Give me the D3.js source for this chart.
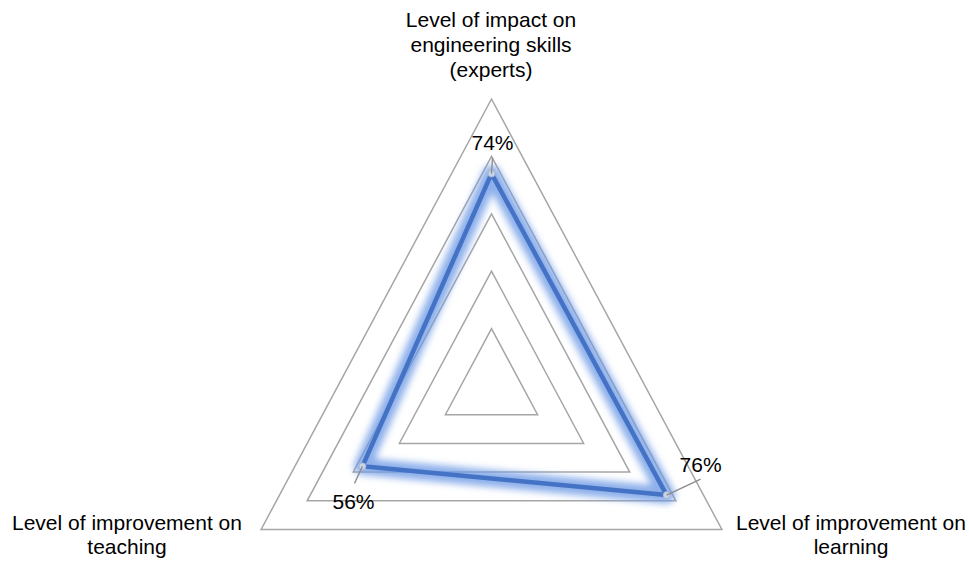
<!DOCTYPE html>
<html>
<head>
<meta charset="utf-8">
<script src="https://cdn.jsdelivr.net/npm/d3@7"></script>
<style>
  html, body { margin: 0; padding: 0; background: #fff; }
  svg { display: block; font-family: "Liberation Sans", Arial, sans-serif; }
</style>
</head>
<body>
<svg id="chart" width="969" height="562"></svg>
<script>
// Radar chart: three axes, one series, values in percent of full scale
const categories = [
  ["Level of impact on", "engineering skills", "(experts)"],
  ["Level of improvement on", "learning"],
  ["Level of improvement on", "teaching"]
];
const values = [0.74, 0.76, 0.56];
const valueLabels = ["74%", "76%", "56%"];
const gridLevels = [0.2, 0.4, 0.6, 0.8, 1.0];

const svg = d3.select("#chart");
const cx = 491.5, cy = 386;
const kx = 0.927; // horizontal squeeze of the plot area
const r = d3.scaleLinear().domain([0, 1]).range([0, 287]);
const angle = d3.scaleLinear().domain([0, categories.length]).range([0, 2 * Math.PI]);

function pt(i, v) {
  const a = angle(i);
  return [cx + r(v) * Math.sin(a) * kx, cy - r(v) * Math.cos(a)];
}

// glow filter for the series line
const defs = svg.append("defs");
const f = defs.append("filter").attr("id", "glow")
  .attr("x", "-20%").attr("y", "-20%").attr("width", "140%").attr("height", "140%");
f.append("feGaussianBlur").attr("stdDeviation", 3.6);

const line = d3.line().curve(d3.curveLinearClosed);

// grid triangles
svg.append("g").selectAll("path").data(gridLevels).join("path")
  .attr("d", lv => line(categories.map((c, i) => pt(i, lv))))
  .attr("fill", "none")
  .attr("stroke", "#a6a6a6")
  .attr("stroke-width", 1.5);

const seriesPts = values.map((v, i) => pt(i, v));

// glow beneath the line
svg.append("path")
  .attr("d", line(seriesPts))
  .attr("fill", "none")
  .attr("stroke", "#6f9be6")
  .attr("stroke-opacity", 0.8)
  .attr("stroke-width", 17)
  .attr("stroke-linejoin", "round")
  .attr("filter", "url(#glow)");

svg.append("path")
  .attr("d", line(seriesPts))
  .attr("fill", "none")
  .attr("stroke", "#4472c4")
  .attr("stroke-width", 4.5)
  .attr("stroke-linejoin", "round");

// data labels with leader lines
const labelOffsets = [[1, -24], [34, -23], [-9, 43]];
const leaderEnds = [[1, -16], [34, -16], [-8, 17]];
const lbl = svg.append("g");
seriesPts.forEach((p, i) => {
  const e = leaderEnds[i];
  lbl.append("circle")
    .attr("cx", p[0]).attr("cy", p[1]).attr("r", 3.5)
    .attr("fill", "#c8d4e6").attr("stroke", "#9fb0c8").attr("stroke-width", 0.8);
  lbl.append("line")
    .attr("x1", p[0]).attr("y1", p[1])
    .attr("x2", p[0] + e[0]).attr("y2", p[1] + e[1])
    .attr("stroke", "#8c8c8c").attr("stroke-width", 1.3);
  lbl.append("text")
    .attr("x", p[0] + labelOffsets[i][0])
    .attr("y", p[1] + labelOffsets[i][1])
    .attr("text-anchor", "middle")
    .attr("font-size", 21)
    .attr("fill", "#000")
    .text(valueLabels[i]);
});

// axis titles
const titlePos = [[491, 27], [851, 530], [127, 530]];
const lineGap = [25, 24, 24];
const tg = svg.append("g");
categories.forEach((lines, i) => {
  const t = tg.append("text")
    .attr("text-anchor", "middle")
    .attr("font-size", 21)
    .attr("fill", "#000");
  lines.forEach((s, j) => {
    t.append("tspan")
      .attr("x", titlePos[i][0])
      .attr("y", titlePos[i][1] + j * lineGap[i])
      .text(s);
  });
});
</script>
</body>
</html>
